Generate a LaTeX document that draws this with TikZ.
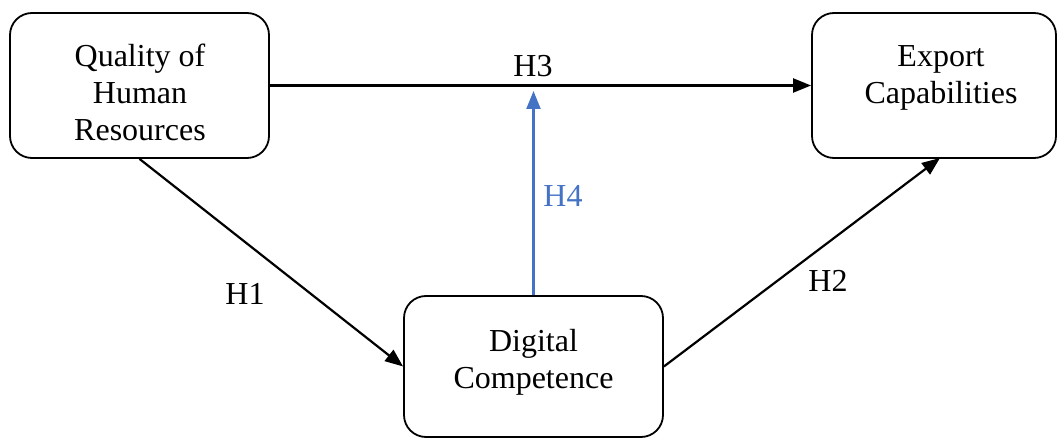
\documentclass[tikz,border=0pt]{standalone}
\usepackage{fontspec}
\setmainfont{Liberation Serif}
\usetikzlibrary{arrows.meta}
\definecolor{hblue}{HTML}{4472C4}
\tikzset{
  box/.style={draw=black, line width=1.8pt, rounded corners=22pt, inner sep=0pt},
  boxtext/.style={align=center, inner sep=0pt, font=\fontsize{32}{37}\selectfont},
  hyp/.style={inner sep=0pt, anchor=base, font=\fontsize{32}{37}\selectfont},
  link/.style={line width=2.2pt, -{Triangle[length=18pt,width=14pt]}},
}
\begin{document}
\begin{tikzpicture}[x=1pt, y=-1pt]
  \useasboundingbox (0,0) rectangle (1058,438);
  % boxes
  \node[box, minimum width=259pt, minimum height=145pt] (qhr) at (139.5,85.5) {};
  \node[box, minimum width=244pt, minimum height=145pt] (exp) at (934,85.5) {};
  \node[box, minimum width=259pt, minimum height=141pt] (dig) at (533.5,366.5) {};
  % box texts
  \node[boxtext] (qhrtext) at (140,92.5) {Quality of\\Human\\Resources};
  \node[boxtext] (exptext) at (941,77.5) {Export\\Capabilities};
  \node[boxtext] (digtext) at (533.5,362) {Digital\\Competence};
  % connectors
  \coordinate (h4tip) at (533.5,91);
  \coordinate (h2tip) at (940,158);
  \draw[link] (qhr.east) -- (exp.west);
  \draw[link, hblue] (dig.north) -- (h4tip);
  \draw[link] (qhr.south) -- (dig.west);
  \draw[link] (dig.east) -- (h2tip);
  % hypothesis labels
  \node[hyp] (h3) at (533,77) {H3};
  \node[hyp, text=hblue] (h4) at (563,207) {H4};
  \node[hyp] (h1) at (245,305) {H1};
  \node[hyp] (h2) at (828,292) {H2};
\end{tikzpicture}
\end{document}
